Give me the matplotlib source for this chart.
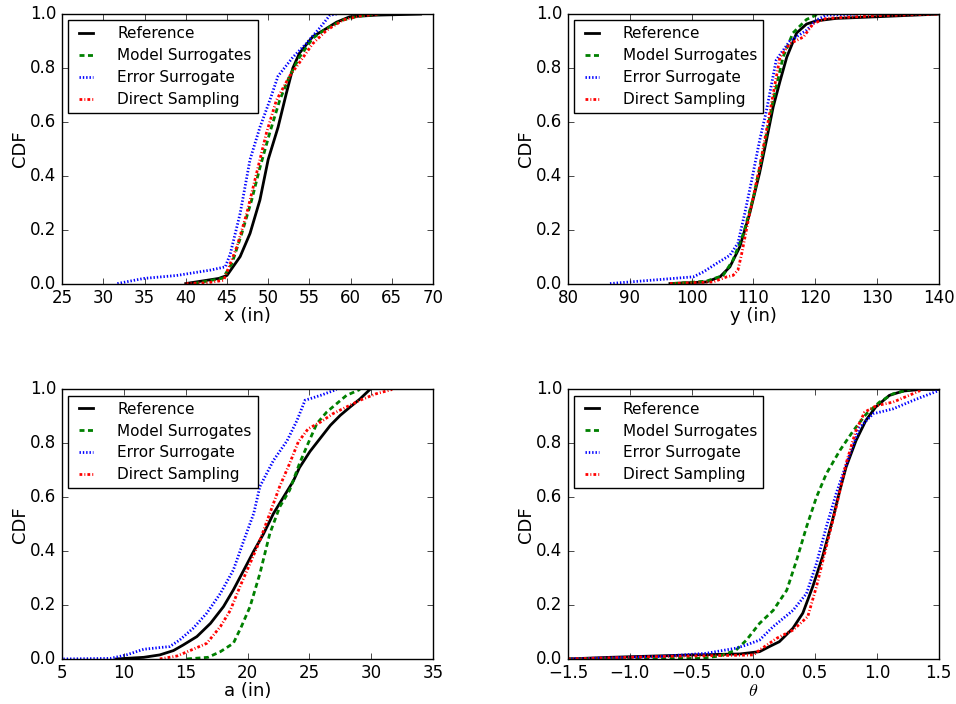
import matplotlib
matplotlib.use("Agg")
import matplotlib.pyplot as plt

plt.style.use('classic')
plt.rcParams['mathtext.fontset'] = 'cm'
plt.rcParams['font.size'] = 12

labels = ['Reference', 'Model Surrogates', 'Error Surrogate', 'Direct Sampling']
colors = ['k', 'g', 'b', 'r']
# dash patterns in points (classic style does not scale them with width)
dash_list = [None, (3.6, 2.5), (1.0, 1.4), (2.0, 1.5, 0.7, 1.5)]

# x (in)
x_ref = [40, 44, 45, 46.6, 47.8, 49.0, 50.0, 51.2, 52.2, 53.0, 53.8, 55.4, 57.1, 58.3, 59.9, 63.1, 68.5]
x_ref_c = [0, 0.019, 0.03, 0.10, 0.186, 0.31, 0.46, 0.58, 0.705, 0.80, 0.855, 0.916, 0.947, 0.97, 0.99, 0.996, 1.0]
x_mod = [41, 44.5, 45.6, 46.8, 48.0, 49.0, 50.2, 51.4, 52.6, 53.8, 55.4, 57.1, 59.1, 61.1, 63.5]
x_mod_c = [0, 0.02, 0.074, 0.186, 0.31, 0.43, 0.56, 0.68, 0.77, 0.84, 0.91, 0.947, 0.978, 0.993, 1.0]
x_err = [31.7, 34.9, 38.9, 43.0, 44.8, 45.4, 46.6, 47.8, 49.0, 50.2, 51.2, 53.0, 54.6, 56.3, 57.5, 58.3]
x_err_c = [0, 0.019, 0.03, 0.05, 0.062, 0.11, 0.26, 0.46, 0.58, 0.68, 0.77, 0.84, 0.89, 0.95, 0.996, 1.0]
x_dir = [40, 42.5, 44.6, 45.0, 46.2, 47.4, 48.6, 49.8, 51.0, 52.6, 53.8, 55.4, 57.1, 59.1, 61.1, 63.5]
x_dir_c = [0, 0.0025, 0.012, 0.043, 0.136, 0.26, 0.41, 0.56, 0.68, 0.77, 0.82, 0.89, 0.94, 0.978, 0.993, 1.0]

# y (in)
y_ref = [96.5, 102.4, 104.6, 106.2, 107.8, 109.4, 111.0, 112.1, 113.2, 114.3, 115.4, 117.0, 118.6, 120.2, 123.4, 129.9, 140]
y_ref_c = [0, 0.006, 0.025, 0.062, 0.136, 0.26, 0.41, 0.53, 0.655, 0.75, 0.84, 0.93, 0.963, 0.975, 0.984, 0.99, 1.0]
y_mod = [97, 102.4, 105.1, 106.7, 108.4, 110.0, 111.6, 113.2, 114.8, 116.4, 118.6, 120.5]
y_mod_c = [0, 0.009, 0.03, 0.087, 0.186, 0.32, 0.495, 0.68, 0.84, 0.93, 0.98, 1.0]
y_err = [86.8, 90, 94.9, 100.3, 101.9, 104.0, 106.2, 107.5, 108.6, 109.7, 111.0, 112.1, 113.7, 115.9, 118.6, 120.2, 121.8, 127.2]
y_err_c = [0, 0.006, 0.015, 0.025, 0.043, 0.074, 0.105, 0.15, 0.26, 0.38, 0.53, 0.64, 0.83, 0.90, 0.94, 0.978, 0.996, 1.0]
y_dir = [96.5, 103.5, 105.7, 106.7, 107.5, 108.1, 109.4, 111.0, 112.7, 114.3, 115.9, 118.1, 119.7, 121.8, 129.9, 140]
y_dir_c = [0, 0.006, 0.025, 0.03, 0.05, 0.11, 0.26, 0.43, 0.64, 0.84, 0.89, 0.915, 0.965, 0.984, 0.994, 1.0]

# a (in)
a_ref = [9.4, 11.6, 12.9, 14.0, 14.8, 15.9, 17.0, 18.05, 18.85, 19.7, 20.5, 21.3, 22.1, 22.9, 23.7, 24.2, 25.05, 25.9, 26.7, 27.5, 28.3, 29.1, 29.9]
a_ref_c = [0, 0.006, 0.015, 0.031, 0.052, 0.083, 0.132, 0.194, 0.256, 0.33, 0.40, 0.465, 0.54, 0.60, 0.66, 0.71, 0.77, 0.82, 0.867, 0.904, 0.935, 0.965, 1.0]
a_mod = [15.1, 16.8, 17.8, 18.85, 19.5, 20.2, 21.0, 21.8, 22.6, 23.4, 24.2, 24.9, 25.6, 26.4, 27.2, 28.0, 29.1]
a_mod_c = [0, 0.006, 0.027, 0.058, 0.12, 0.194, 0.317, 0.465, 0.564, 0.626, 0.725, 0.80, 0.873, 0.916, 0.947, 0.978, 1.0]
a_err = [5.1, 8.9, 10.2, 11.6, 13.7, 14.5, 15.6, 16.7, 17.8, 18.85, 19.7, 20.5, 21.0, 22.1, 23.2, 24.0, 24.65, 25.9, 27.2]
a_err_c = [0, 0.002, 0.015, 0.036, 0.046, 0.07, 0.114, 0.17, 0.243, 0.33, 0.44, 0.54, 0.64, 0.737, 0.81, 0.885, 0.96, 0.978, 1.0]
a_dir = [12.9, 14.3, 15.6, 16.7, 17.8, 18.6, 19.4, 20.2, 21.0, 21.8, 22.6, 23.4, 24.1, 24.9, 25.9, 26.9, 28.0, 29.1, 30.4, 31.7]
a_dir_c = [0, 0.011, 0.036, 0.058, 0.12, 0.18, 0.27, 0.354, 0.44, 0.54, 0.64, 0.725, 0.805, 0.854, 0.879, 0.91, 0.935, 0.96, 0.984, 1.0]

# theta
t_ref = [-1.5, -1.16, -0.49, -0.11, 0.05, 0.13, 0.21, 0.32, 0.40, 0.48, 0.56, 0.64, 0.70, 0.75, 0.83, 0.91, 0.99, 1.10, 1.21, 1.35, 1.5]
t_ref_c = [0, 0.006, 0.015, 0.0185, 0.027, 0.046, 0.064, 0.114, 0.17, 0.268, 0.38, 0.515, 0.626, 0.712, 0.81, 0.885, 0.935, 0.978, 0.994, 1.0, 1.0]
t_mod = [-1.5, -0.43, -0.27, -0.14, -0.056, 0.05, 0.16, 0.27, 0.35, 0.43, 0.51, 0.59, 0.70, 0.81, 0.915, 1.02, 1.13, 1.27]
t_mod_c = [0, 0.002, 0.011, 0.033, 0.07, 0.132, 0.18, 0.255, 0.367, 0.49, 0.60, 0.687, 0.774, 0.848, 0.91, 0.953, 0.984, 1.0]
t_err = [-1.5, -0.76, -0.38, -0.14, -0.056, 0.05, 0.16, 0.32, 0.43, 0.51, 0.59, 0.67, 0.78, 0.86, 0.97, 1.13, 1.29, 1.5]
t_err_c = [0, 0.009, 0.021, 0.04, 0.052, 0.07, 0.12, 0.18, 0.243, 0.354, 0.49, 0.614, 0.76, 0.86, 0.91, 0.928, 0.959, 0.996]
t_dir = [-1.5, -0.76, -0.08, 0.0, 0.05, 0.19, 0.32, 0.44, 0.51, 0.59, 0.67, 0.75, 0.83, 0.90, 0.996, 1.13, 1.29, 1.35]
t_dir_c = [0, 0.009, 0.014, 0.015, 0.033, 0.077, 0.107, 0.157, 0.268, 0.416, 0.564, 0.725, 0.848, 0.916, 0.94, 0.953, 0.984, 0.996]

panels = [
    ([x_ref, x_mod, x_err, x_dir], [x_ref_c, x_mod_c, x_err_c, x_dir_c], 'x (in)', (25, 70)),
    ([y_ref, y_mod, y_err, y_dir], [y_ref_c, y_mod_c, y_err_c, y_dir_c], 'y (in)', (80, 140)),
    ([a_ref, a_mod, a_err, a_dir], [a_ref_c, a_mod_c, a_err_c, a_dir_c], 'a (in)', (5, 35)),
    ([t_ref, t_mod, t_err, t_dir], [t_ref_c, t_mod_c, t_err_c, t_dir_c], r'$\theta$', (-1.5, 1.5)),
]

fig, axes = plt.subplots(2, 2, figsize=(9.56, 7.04), dpi=100)
fig.patch.set_facecolor('white')
plt.subplots_adjust(left=0.065, right=0.982, bottom=0.064, top=0.980, wspace=0.364, hspace=0.393)

for ax, (xs, cs, xlabel, xlim) in zip(axes.flat, panels):
    for xv, cv, col, dsh, lab in zip(xs, cs, colors, dash_list, labels):
        line, = ax.plot(xv, cv, color=col, lw=2, label=lab)
        if dsh is not None:
            line.set_dashes(dsh)
    ax.set_xlim(xlim)
    ax.set_ylim(0, 1)
    ax.tick_params(axis='both', pad=4)
    ax.set_xlabel(xlabel, fontsize=13, labelpad=0)
    ax.set_ylabel('CDF', fontsize=13, labelpad=1)
    ax.legend(loc='upper left', fontsize=11, handlelength=1.5, handletextpad=1.3,
              labelspacing=0.45, borderaxespad=0.4)

plt.savefig('out.png', dpi=100, facecolor='white')
